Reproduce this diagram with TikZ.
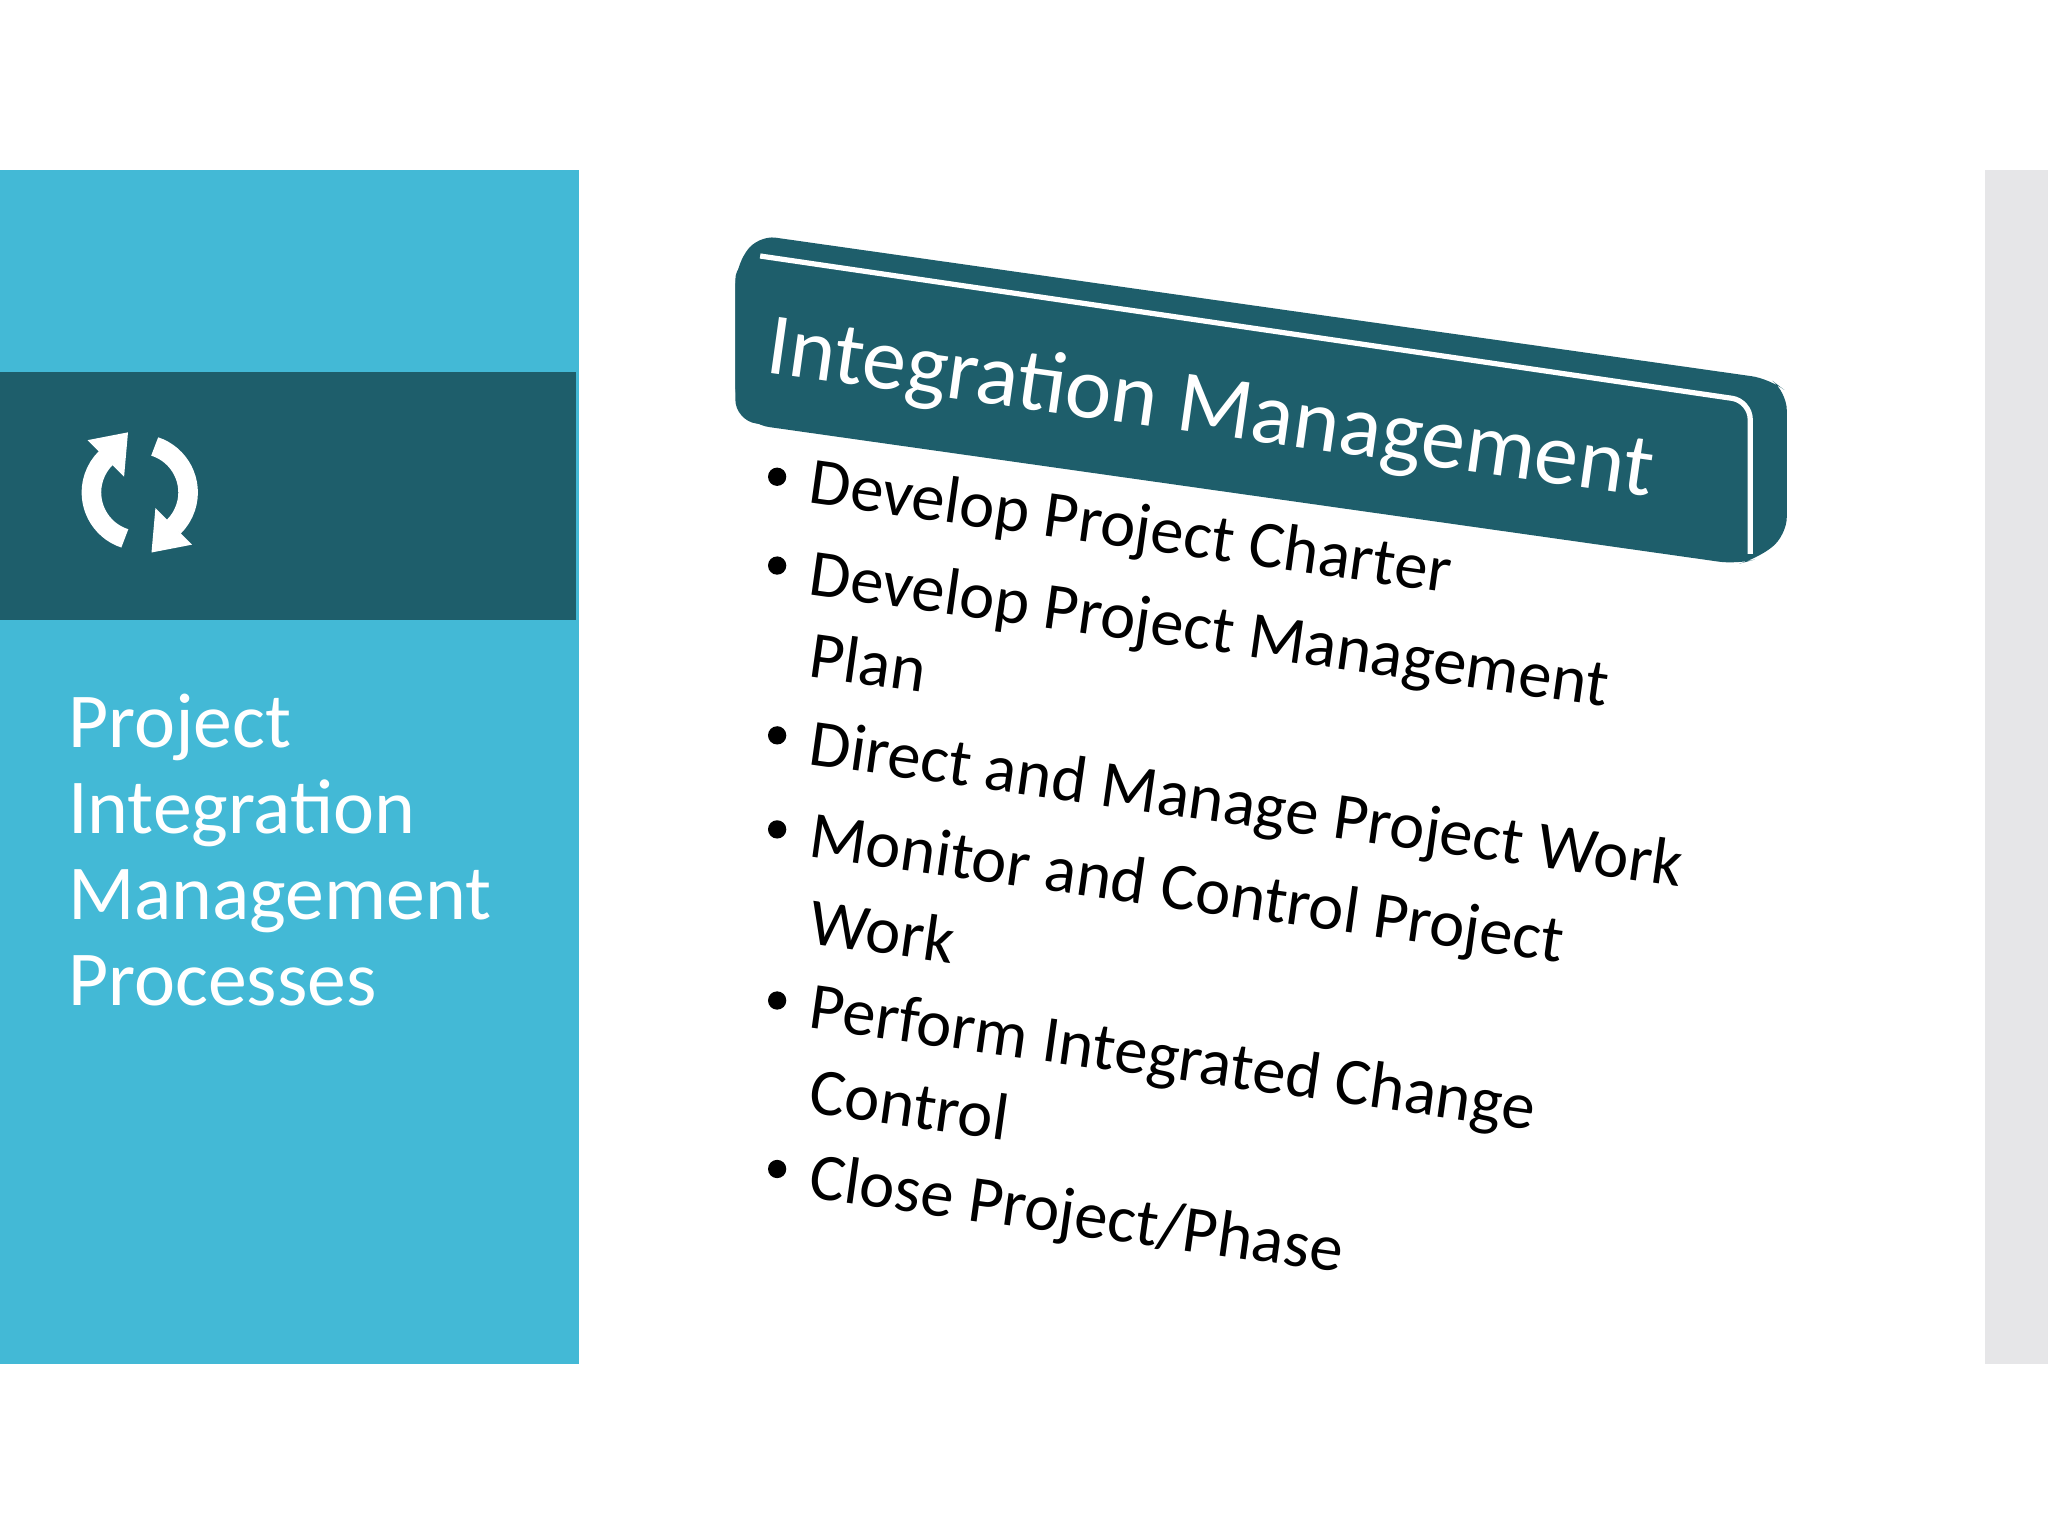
\documentclass[tikz,border=0pt]{standalone}
\usepackage{fontspec}
\setmainfont{Carlito}
\usetikzlibrary{calc}
\definecolor{lteal}{HTML}{43B9D6}
\definecolor{dteal}{HTML}{1E5E6B}
\definecolor{sgray}{HTML}{E6E6E8}
\tikzset{
  item/.style={anchor=base west,rotate=-8,inner sep=0pt,font=\fontsize{51}{55}\selectfont,text=black},
  dot/.style={circle,fill=black,inner sep=0pt,minimum size=14pt},
  side/.style={anchor=base west,inner sep=0pt,text=white,font=\fontsize{59.5}{62}\selectfont},
  ricon/.style={white,line width=15pt}
}
\begin{document}
\begin{tikzpicture}[x=1pt,y=-1pt]
\useasboundingbox (0,0) rectangle (1568,1176);
\fill[white] (0,0) rectangle (1568,1176);
\fill[lteal] (0,130) rectangle (443,1044);
\fill[dteal] (0,285) rectangle (441,475);
\fill[sgray] (1520,130) rectangle (1568,1044);
% refresh icon
\coordinate (ic) at (107,377);
\draw[ricon] ($(ic)+(108:37)$) arc[start angle=108,end angle=226,radius=37];
\fill[white] ($(ic)+(-40,-40)$) -- ($(ic)+(-9,-46)$) -- ($(ic)+(-12,-12)$) -- cycle;
\draw[ricon] ($(ic)+(288:37)$) arc[start angle=288,end angle=406,radius=37];
\fill[white] ($(ic)+(40,40)$) -- ($(ic)+(9,46)$) -- ($(ic)+(12,12)$) -- cycle;
\node[side] (t1) at (52,572) {Project};
\node[side] (t2) at (52,638) {Integration};
\node[side] (t3) at (52,704) {Management};
\node[side] (t4) at (52,770) {Processes};
% banner
\fill[dteal,rounded corners=14pt] (580,180) -- (1355,290) -- (1368,300) -- (1368,410) -- (1345,428) -- (1330,432) -- (575,325) -- (563,310) -- (563,205) -- cycle;
\fill[dteal,rounded corners=16pt] (563,198) -- (1350,305) -- (1345,432) -- (563,322) -- cycle;
\draw[white,line width=4pt,rounded corners=14pt] (582,196) -- (1340,307) -- (1340,424);
\node[anchor=base west,rotate=-8,inner sep=0pt,text=white,font=\fontsize{67.5}{70}\selectfont] (ban) at (585,285) {Integration Management};
% bullets
\foreach \y/\n in {365/b1,433/b2,563/b3,635/b4,766/b5,895/b6}
  \node[dot] (\n) at (595,\y) {};
\node[item] (l1) at (618,385) {Develop Project Charter};
\node[item] (l2) at (618,455) {Develop Project Management};
\node[item] (l3) at (618,518) {Plan};
\node[item] (l4) at (618,585) {Direct and Manage Project Work};
\node[item] (l5) at (618,656) {Monitor and Control Project};
\node[item] (l6) at (618,722) {Work};
\node[item] (l7) at (618,787) {Perform Integrated Change};
\node[item] (l8) at (618,852) {Control};
\node[item] (l9) at (618,917) {Close Project/Phase};
\end{tikzpicture}
\end{document}
